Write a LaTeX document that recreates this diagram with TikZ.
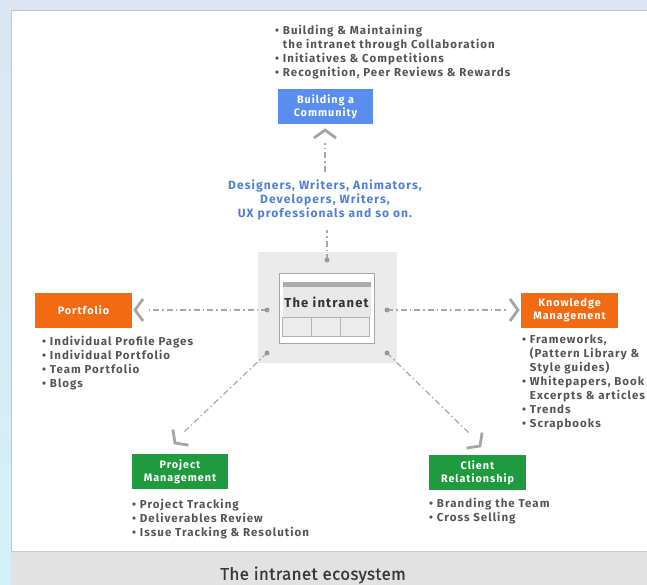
\documentclass[tikz,border=0pt]{standalone}
\usepackage{fontspec}
\setmainfont{Fira Sans}[LetterSpace=9]
\newfontfamily\titlefont{Fira Sans}[LetterSpace=2, FakeBold=0.8]
\usetikzlibrary{calc}
\definecolor{bgblue}{HTML}{DCE5F3}
\definecolor{bgcyan}{HTML}{D2F1F8}
\definecolor{txtgray}{HTML}{555555}
\definecolor{cblue}{HTML}{5A8EEE}
\definecolor{corange}{HTML}{F26A12}
\definecolor{cgreen}{HTML}{1F9A3E}
\definecolor{pblue}{HTML}{4F80D6}
\definecolor{hubgray}{HTML}{EBEBEB}
\definecolor{linegray}{HTML}{A8A8A8}
\definecolor{chevgray}{HTML}{A5A5A5}
\definecolor{bandgray}{HTML}{E2E2E2}
\tikzset{
  catbox/.style={rectangle, minimum width=96pt, minimum height=35pt, inner sep=0pt,
    text=white, font=\fontsize{10.8}{13}\selectfont\bfseries, align=center},
  bullets/.style={anchor=north west, inner sep=0pt, text=txtgray,
    font=\fontsize{11.5}{14}\selectfont\bfseries, align=left},
  link/.style={draw=linegray, line width=1.2pt, dash pattern=on 6pt off 3pt on 1.5pt off 3pt},
  hubdot/.style={circle, fill=gray!80, inner sep=0pt, minimum size=5pt},
  chev/.pic={\draw[chevgray, line width=2.8pt, line cap=butt, line join=miter] (8,-11) -- (0,0) -- (8,11);}
}
\begin{document}
\begin{tikzpicture}[x=1pt,y=-1pt]
\useasboundingbox (0,0) rectangle (647,585);
% background
\shade[top color=bgblue, bottom color=bgcyan] (0,0) rectangle (647,585);
\fill[white] (11,11) rectangle (647,585);
\draw[gray!45, line width=1pt] (11,585) -- (11,11) -- (647,11);
\fill[bandgray] (11,551) rectangle (647,585);
\draw[gray!40, line width=1pt] (11,551) -- (647,551);
\node[font=\fontsize{17}{20}\selectfont\titlefont, text=black!78] (title) at (313,575) {The intranet ecosystem};

% hub
\node[rectangle, fill=hubgray, minimum width=139pt, minimum height=111pt, inner sep=0pt] (hub) at (327.5,307.5) {};
\node[rectangle, fill=white, draw=gray!70, line width=1pt, minimum width=95pt, minimum height=70pt, inner sep=0pt] (win) at (326.5,308) {};
\fill[gray!65] ($(win.north west)+(4,9)$) rectangle ($(win.north east)+(-4,14)$);
\fill[gray!18] ($(win.north west)+(4,14)$) rectangle ($(win.north east)+(-4,45)$);
\node[font=\fontsize{13}{15}\selectfont\bfseries, text=black!80] (wintitle) at (326.5,302) {The intranet};
\foreach \i in {0,1,2} {
  \draw[gray!60, fill=gray!15, line width=0.8pt] ($(win.north west)+(4+\i*29,45)$) rectangle ($(win.north west)+(4+\i*29+29,64)$);
}
\coordinate (dtop) at (327,260);
\coordinate (dleft) at (267,310);
\coordinate (dright) at (387,310);
\coordinate (dbl) at (267,353);
\coordinate (dbr) at (387,353);

% category boxes
\node[catbox, fill=cblue, minimum width=95pt] (comm) at (325.5,106.5) {Building a\\Community};
\node[catbox, fill=corange, minimum width=97pt] (port) at (83.5,310.5) {Portfolio};
\node[catbox, fill=corange, minimum width=97pt] (km) at (569.5,310.5) {Knowledge\\Management};
\node[catbox, fill=cgreen] (pm) at (180,471.5) {Project\\Management};
\node[catbox, fill=cgreen, minimum width=97pt] (cr) at (477.5,472.5) {Client\\Relationship};

% people text
\node[text=pblue, font=\fontsize{12}{14}\selectfont\bfseries, align=center, inner sep=0pt] (ppl) at (325,200)
  {Designers, Writers, Animators,\\Developers, Writers,\\UX professionals and so on.};

% bullet lists
\node[bullets] (lcomm) at (275,25) {• Building \& Maintaining\\\phantom{• }the intranet through Collaboration\\• Initiatives \& Competitions\\• Recognition, Peer Reviews \& Rewards};
\node[bullets] (lport) at (42,336) {• Individual Profile Pages\\• Individual Portfolio\\• Team Portfolio\\• Blogs};
\node[bullets] (lkm) at (522,335) {• Frameworks,\\\phantom{• }(Pattern Library \&\\\phantom{• }Style guides)\\• Whitepapers, Book\\\phantom{• }Excerpts \& articles\\• Trends\\• Scrapbooks};
\node[bullets] (lpm) at (132,499) {• Project Tracking\\• Deliverables Review\\• Issue Tracking \& Resolution};
\node[bullets] (lcr) at (429,498) {• Branding the Team\\• Cross Selling};

% connector ends
\coordinate (ctop) at (325,143);
\coordinate (cleft) at (148,310);
\coordinate (cright) at (506,310);
\coordinate (cpm) at (184,432);
\coordinate (ccr) at (470,434);

\draw[link] (dtop) -- ($(ppl.south)+(2,10)$);
\draw[link] ($(ppl.north)+(0,-8)$) -- (ctop);
\draw[link] (dleft) -- (cleft);
\draw[link] (dright) -- (cright);
\draw[link] (dbl) -- (cpm);
\draw[link] (dbr) -- (ccr);

\foreach \d in {dtop,dleft,dright,dbl,dbr} \node[hubdot] at (\d) {};

% chevrons
\pic[rotate=-90] at (325,130) {chev};
\pic at (135,310) {chev};
\pic[rotate=180] at (518,310) {chev};
\pic[rotate=45] at (175,443) {chev};
\pic[rotate=135] at (480,446) {chev};
\end{tikzpicture}
\end{document}
